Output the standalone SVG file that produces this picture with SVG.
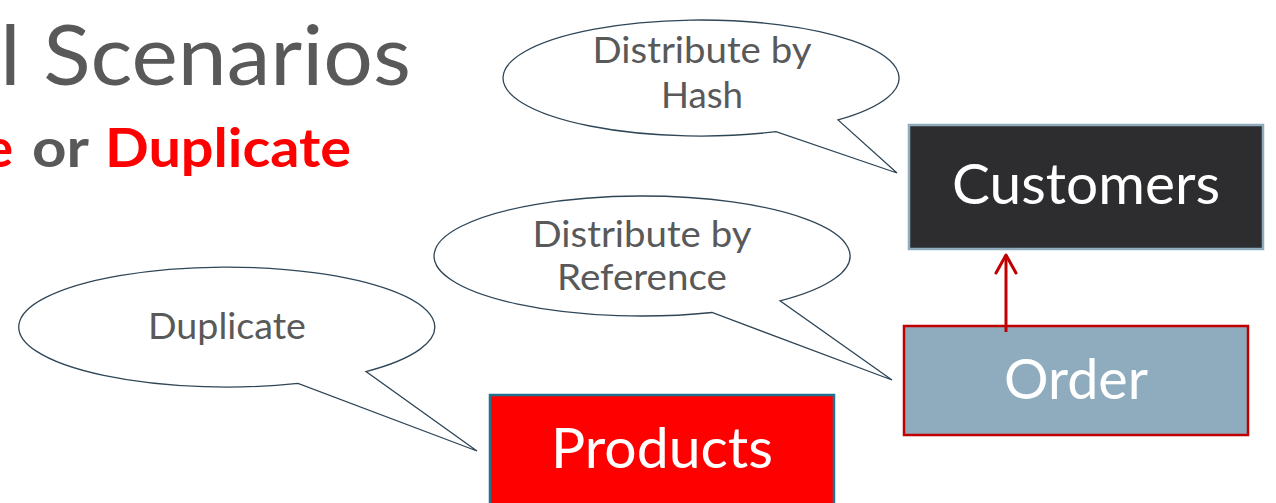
<svg xmlns="http://www.w3.org/2000/svg" width="1276" height="503" viewBox="0 0 1276 503">
  <defs>
    <style>
      .title { font-family: Lato, "Open Sans", sans-serif; fill: #595959; }
      .sub { font-family: Lato, "Open Sans", sans-serif; font-weight: bold; font-size: 54px; }
      .red { fill: #FF0000; }
      .gray { fill: #595959; }
      .bubble { fill: #FFFFFF; stroke: #2F4657; stroke-width: 1.3; stroke-linejoin: miter; }
      .btext { font-family: Lato, "Open Sans", sans-serif; font-size: 36px; fill: #595959; text-anchor: middle; }
      .ntext { font-family: Lato, "Open Sans", sans-serif; font-size: 57px; fill: #FFFFFF; text-anchor: middle; }
      .link { fill: none; stroke: #C00000; stroke-width: 3; }
    </style>
    <marker id="open-arrow" viewBox="0 0 24 24" refX="20" refY="12" markerWidth="24" markerHeight="24" markerUnits="userSpaceOnUse" orient="auto">
      <path d="M2,2 L20,12 L2,22" fill="none" stroke="#C00000" stroke-width="3" stroke-linecap="round" stroke-linejoin="round"/>
    </marker>
  </defs>

  <rect width="1276" height="503" fill="#FFFFFF"/>

  <!-- heading -->
  <text class="title" x="0" y="85" font-size="84" textLength="411" lengthAdjust="spacingAndGlyphs">l Scenarios</text>
  <text class="sub red" x="13" y="167" text-anchor="end">e</text>
  <text class="sub gray" x="32" y="167" textLength="57" lengthAdjust="spacingAndGlyphs">or</text>
  <text class="sub red" x="105" y="167" textLength="246" lengthAdjust="spacingAndGlyphs">Duplicate</text>

  <!-- speech bubbles: ellipse body with a wedge tail, both tail bases on the ellipse -->
  <g id="bubble-hash">
    <path class="bubble" d="M838,119.9 A198,58 0 1 0 776,131.7 L897,173 Z"/>
    <text class="btext" x="702" y="63" textLength="219" lengthAdjust="spacingAndGlyphs">Distribute by</text>
    <text class="btext" x="702" y="108" textLength="82" lengthAdjust="spacingAndGlyphs">Hash</text>
  </g>

  <g id="bubble-reference">
    <path class="bubble" d="M780,300.9 A208,60 0 1 0 712,312.5 L892,380 Z"/>
    <text class="btext" x="642" y="247" textLength="219" lengthAdjust="spacingAndGlyphs">Distribute by</text>
    <text class="btext" x="642" y="290" textLength="170" lengthAdjust="spacingAndGlyphs">Reference</text>
  </g>

  <g id="bubble-duplicate">
    <path class="bubble" d="M366,371.6 A208,60 0 1 0 298,383.4 L477,451 Z"/>
    <text class="btext" x="227" y="339" textLength="158" lengthAdjust="spacingAndGlyphs">Duplicate</text>
  </g>

  <!-- tables -->
  <g id="customers">
    <rect x="909" y="125" width="354" height="124" fill="#2D2D30" stroke="#8FACBD" stroke-width="2.5"/>
    <text class="ntext" x="1086" y="204" textLength="268" lengthAdjust="spacingAndGlyphs">Customers</text>
  </g>

  <g id="order">
    <rect x="904" y="326" width="344" height="109" fill="#8FACBE" stroke="#C00000" stroke-width="2.5"/>
    <text class="ntext" x="1076" y="399" textLength="144" lengthAdjust="spacingAndGlyphs">Order</text>
  </g>

  <g id="products">
    <rect x="490" y="395" width="344" height="120" fill="#FF0000" stroke="#1F7391" stroke-width="2.5"/>
    <text class="ntext" x="662" y="468" textLength="222" lengthAdjust="spacingAndGlyphs">Products</text>
  </g>

  <!-- connectors -->
  <g id="connectors">
    <line class="link" x1="1006" y1="332" x2="1006" y2="255" marker-end="url(#open-arrow)"/>
  </g>
</svg>
